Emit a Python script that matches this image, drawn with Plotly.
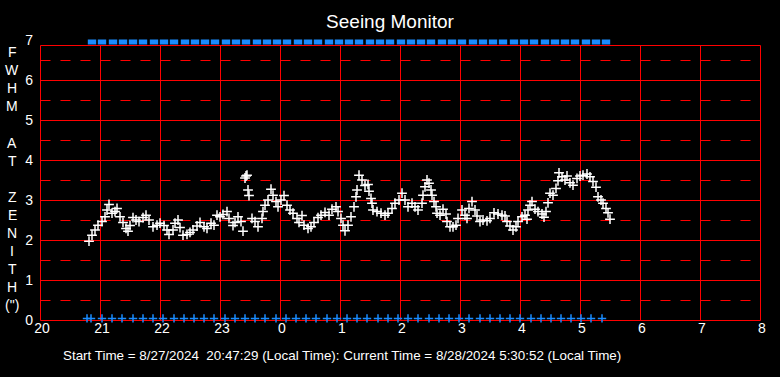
import plotly.graph_objects as go

# FWHM samples: minutes after 20:00 and seeing value (arcsec)
fwhm_minutes = [
    49, 52, 55, 58, 62, 65, 67, 69, 72, 75, 77, 80, 83, 86, 88, 90, 93, 96, 99, 103,
    106, 109, 113, 117, 120, 124, 127, 129, 133, 135, 138, 140, 143, 147, 150, 153, 157, 160, 164, 167,
    171, 174, 177, 180, 183, 187, 189, 193, 195, 198, 201, 203, 205, 206, 207, 208, 209, 212, 215, 218,
    222, 223, 225, 228, 231, 233, 236, 238, 241, 244, 247, 250, 253, 257, 259, 262, 264, 268, 271, 274,
    278, 281, 285, 289, 292, 296, 298, 301, 303, 305, 308, 311, 314, 316, 317, 319, 322, 325, 328, 329,
    331, 332, 333, 337, 341, 345, 348, 352, 355, 359, 362, 365, 368, 372, 375, 378, 382, 383, 385, 387,
    389, 391, 392, 394, 396, 397, 400, 403, 406, 407, 410, 413, 416, 418, 422, 425, 427, 429, 432, 435,
    437, 440, 443, 447, 450, 454, 458, 462, 465, 467, 470, 473, 476, 478, 482, 485, 487, 488, 490, 492,
    495, 498, 502, 504, 506, 508, 510, 513, 516, 518, 519, 522, 525, 527, 530, 533, 537, 540, 543, 547,
    550, 553, 556, 558, 561, 563, 566, 568, 570,
]
fwhm_values = [
    1.97, 2.12, 2.25, 2.37, 2.46, 2.58, 2.75, 2.89, 2.67, 2.71, 2.79, 2.58, 2.44, 2.29, 2.22, 2.36, 2.56, 2.50, 2.46, 2.56,
    2.62, 2.50, 2.33, 2.37, 2.42, 2.36, 2.25, 2.14, 2.25, 2.42, 2.50, 2.31, 2.12, 2.14, 2.19, 2.25, 2.35, 2.44, 2.33, 2.29,
    2.42, 2.37, 2.62, 2.58, 2.64, 2.71, 2.54, 2.36, 2.44, 2.58, 2.46, 2.22, 3.55, 3.60, 3.62, 3.25, 3.11, 2.54, 2.46, 2.33,
    2.54, 2.71, 2.87, 3.00, 3.27, 3.12, 2.96, 2.83, 3.00, 3.11, 2.87, 2.75, 2.67, 2.54, 2.44, 2.61, 2.37, 2.29, 2.33, 2.44,
    2.56, 2.62, 2.69, 2.62, 2.77, 2.83, 2.71, 2.54, 2.37, 2.23, 2.37, 2.58, 2.83, 3.08, 3.25, 3.62, 3.50, 3.36, 3.39, 3.22,
    3.04, 2.92, 2.75, 2.71, 2.67, 2.62, 2.67, 2.79, 2.92, 3.00, 3.17, 3.00, 2.83, 2.92, 2.83, 2.75, 2.92, 3.12, 3.33, 3.50,
    3.42, 3.25, 3.12, 2.96, 2.83, 2.67, 2.62, 2.77, 2.65, 2.46, 2.33, 2.33, 2.37, 2.54, 2.75, 2.62, 2.54, 2.79, 2.96, 2.75,
    2.60, 2.46, 2.50, 2.48, 2.54, 2.68, 2.65, 2.62, 2.60, 2.46, 2.35, 2.25, 2.33, 2.46, 2.58, 2.62, 2.52, 2.75, 2.87, 2.96,
    2.77, 2.71, 2.65, 2.57, 2.71, 2.93, 3.17, 3.12, 3.29, 3.48, 3.68, 3.58, 3.50, 3.60, 3.43, 3.37, 3.54, 3.60, 3.62, 3.65,
    3.58, 3.46, 3.32, 3.08, 3.00, 2.92, 2.79, 2.68, 2.52,
]

# status markers (minutes after 20:00)
top_marker_minutes = [
    52, 62, 73, 83, 93, 103, 114, 124, 134, 145, 155, 165, 175, 186, 196, 206, 217, 227, 237, 247,
    258, 268, 278, 289, 299, 309, 319, 330, 340, 350, 361, 371, 381, 391, 402, 412, 422, 433, 443, 453,
    463, 474, 484, 494, 505, 515, 525, 535, 546, 556, 566,
]
top_marker_level = 6.95
bottom_marker_minutes = [
    47, 51, 62, 72, 82, 93, 103, 113, 123, 134, 144, 154, 164, 174, 185, 195, 205, 215, 225, 236, 246, 256,
    266, 276, 287, 297, 307, 317, 327, 338, 348, 358, 368, 378, 389, 399, 409, 419, 429, 440, 450, 460,
    470, 480, 491, 501, 511, 521, 531, 541, 551, 562,
]
bottom_marker_level = 0.04

x_tick_values = [20, 21, 22, 23, 24, 25, 26, 27, 28, 29, 30, 31, 32]
x_tick_labels = ["20", "21", "22", "23", "0", "1", "2", "3", "4", "5", "6", "7", "8"]
y_tick_values = [0, 1, 2, 3, 4, 5, 6, 7]
y_tick_labels = ["0", "1", "2", "3", "4", "5", "6", "7"]
y_label_letters = ["F", "W", "H", "M", "", "A", "T", "", "Z", "E", "N", "I", "T", "H", "(\")"]

title_text = "Seeing Monitor"
footer_text = ("Start Time = 8/27/2024\u00a0 20:47:29 (Local Time): "
               "Current Time = 8/28/2024 5:30:52 (Local Time)")

START_HOUR = 20
def to_hours(mins):
    return [START_HOUR + m / 60.0 for m in mins]

W, H = 780, 377
L, R, T, B = 40, 20, 40, 57
X_MIN, X_MAX = 20, 32
Y_MAX = 7.0
BOX_TOP = 6.875
FONT = "Liberation Sans, Arial, sans-serif"
RED = "#ff0000"
BLUE = "#1a8cff"
LW = 1

plot_h = H - T - B
plot_w = W - L - R
HX = 0.5 / plot_w   # half-pixel in paper units (x)
HY = 0.5 / plot_h   # half-pixel in paper units (y)

def px_x(hour):
    return (hour - X_MIN) / (X_MAX - X_MIN) + HX

def px_y(val):
    return val / Y_MAX - HY

fig = go.Figure()

fig.add_trace(go.Scatter(
    x=to_hours(top_marker_minutes), y=[top_marker_level] * len(top_marker_minutes),
    mode="markers", cliponaxis=False, hoverinfo="skip",
    marker=dict(symbol="line-ew", size=6, line=dict(color=BLUE, width=5)),
))
fig.add_trace(go.Scatter(
    x=to_hours(bottom_marker_minutes), y=[bottom_marker_level] * len(bottom_marker_minutes),
    mode="markers", cliponaxis=False, hoverinfo="skip",
    marker=dict(symbol="cross-thin", size=6, line=dict(color=BLUE, width=1.5)),
))
fig.add_trace(go.Scatter(
    x=to_hours(fwhm_minutes), y=fwhm_values,
    mode="markers", cliponaxis=False,
    marker=dict(symbol="cross-thin", size=7, line=dict(color="white", width=1.5)),
))

shapes = []
for k in range(7):
    yv = px_y(k + 0.5)
    shapes.append(dict(type="line", xref="paper", yref="paper", x0=HX, x1=1, y0=yv, y1=yv,
                       line=dict(color=RED, width=LW, dash="10px,10px"), layer="below"))
for yv in [0, 1, 2, 3, 4, 5, 6, BOX_TOP]:
    shapes.append(dict(type="line", xref="paper", yref="paper", x0=HX, x1=1 + HX,
                       y0=px_y(yv), y1=px_y(yv), line=dict(color=RED, width=LW), layer="below"))
for xv in x_tick_values:
    shapes.append(dict(type="line", xref="paper", yref="paper", x0=px_x(xv), x1=px_x(xv),
                       y0=px_y(0), y1=px_y(BOX_TOP), line=dict(color=RED, width=LW), layer="below"))

annotations = []
for i, ch in enumerate(y_label_letters):
    if not ch:
        continue
    py = 52 + 18.1 * i
    annotations.append(dict(xref="paper", yref="paper",
                            x=(12 - L) / plot_w, y=(H - B - py) / plot_h,
                            text=ch, showarrow=False, xanchor="center", yanchor="middle",
                            font=dict(color="white", size=14, family=FONT)))
annotations.append(dict(xref="paper", yref="paper", x=(342 - L) / plot_w, y=(H - B - 355) / plot_h,
                        text=footer_text, showarrow=False, xanchor="center", yanchor="middle",
                        font=dict(color="white", size=13.4, family=FONT)))

fig.update_layout(
    width=W, height=H,
    margin=dict(l=L, r=R, t=T, b=B),
    paper_bgcolor="black", plot_bgcolor="black",
    showlegend=False,
    title=dict(text=title_text, x=0.5, xanchor="center", y=1 - 21 / H, yanchor="middle",
               font=dict(color="white", size=19, family=FONT)),
    xaxis=dict(range=[X_MIN, X_MAX], tickvals=x_tick_values, ticktext=x_tick_labels,
               showgrid=False, zeroline=False, automargin=False,
               showline=False, ticks="", ticklabelstandoff=-2, ticklabelshift=2,
               tickfont=dict(color="white", size=14, family=FONT)),
    yaxis=dict(range=[0, Y_MAX], tickvals=y_tick_values, ticktext=y_tick_labels,
               showgrid=False, zeroline=False, automargin=False,
               showline=False, ticks="", ticklabelstandoff=6,
               tickfont=dict(color="white", size=14, family=FONT)),
    shapes=shapes,
    annotations=annotations,
)

fig.write_html("out.html", post_script="document.body.style.margin='0';",
               config={"displayModeBar": False})
